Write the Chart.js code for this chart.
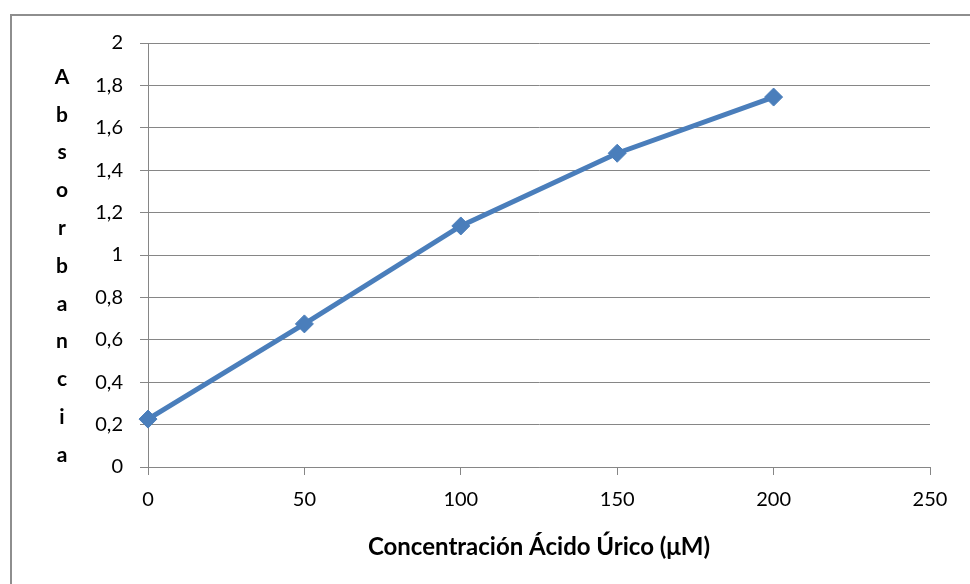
<!DOCTYPE html>
<html>
<head>
<meta charset="utf-8">
<script src="https://cdn.jsdelivr.net/npm/chart.js@4"></script>
<style>
html,body{margin:0;padding:0;background:#fff;}
#wrap{position:relative;width:970px;height:584px;}
</style>
</head>
<body>
<div id="wrap"><canvas id="c" width="970" height="584"></canvas></div>
<script>
const concentrations = [0, 50, 100, 150, 200];
const absorbance = [0.226, 0.675, 1.137, 1.48, 1.745];
const xTitle = 'Concentración Ácido Úrico (μM)';
const yTitleLetters = ['A','b','s','o','r','b','a','n','c','i','a'];
const yMin = 0, yMax = 2, yStep = 0.2;
const xMin = 0, xMax = 250, xStep = 50;

const FONT = "Lato, 'Open Sans', sans-serif";
const GRID = '#868686';
const BLUE = '#4a7ebb';

const extras = {
  id: 'extras',
  beforeDraw(chart) {
    const ctx = chart.ctx;
    ctx.save();
    ctx.fillStyle = '#fff';
    ctx.fillRect(0, 0, chart.width, chart.height);
    ctx.strokeStyle = '#8e8e8e';
    ctx.lineWidth = 2;
    ctx.strokeRect(11, 15, 1000, 1000);
    ctx.restore();
  },
  afterDraw(chart) {
    const ctx = chart.ctx;
    ctx.save();
    ctx.fillStyle = '#000';
    ctx.font = "bold 21px " + FONT;
    ctx.textAlign = 'center';
    ctx.textBaseline = 'middle';
    const top = 77, step = 37.8;
    yTitleLetters.forEach((l, i) => ctx.fillText(l, 62, top + step * i));
    ctx.restore();
  }
};

new Chart(document.getElementById('c'), {
  type: 'line',
  data: {
    datasets: [{
      data: concentrations.map((x, i) => ({x, y: absorbance[i]})),
      borderColor: BLUE,
      backgroundColor: BLUE,
      borderWidth: 5,
      pointStyle: 'rectRot',
      pointRadius: 9,
      pointBorderWidth: 1,
      pointBorderColor: BLUE,
      pointBackgroundColor: BLUE,
      tension: 0,
      clip: false
    }]
  },
  plugins: [extras],
  options: {
    responsive: false,
    animation: false,
    devicePixelRatio: 1,
    layout: { padding: { left: 0, top: 43, right: 40, bottom: 0 } },
    plugins: { legend: { display: false }, tooltip: { enabled: false } },
    scales: {
      x: {
        type: 'linear',
        min: xMin, max: xMax,
        afterFit(s) { s.height = 117; },
        ticks: { stepSize: xStep, color: '#000', font: { family: FONT, size: 20 }, padding: 13, maxRotation: 0 },
        grid: { drawOnChartArea: false, drawTicks: true, tickLength: 8, color: GRID, lineWidth: 1 },
        border: { display: true, color: GRID, width: 1 },
        title: { display: true, text: xTitle, color: '#000', font: { family: FONT, size: 24, weight: 'bold' }, padding: { top: 8, bottom: 22 } }
      },
      y: {
        min: yMin, max: yMax,
        afterFit(s) { s.width = 148; },
        ticks: {
          stepSize: yStep, color: '#000', font: { family: FONT, size: 20 }, padding: 17,
          callback: v => (Math.round(v * 10) / 10).toString().replace('.', ',')
        },
        grid: { drawTicks: true, tickLength: 8, color: GRID, lineWidth: 1 },
        border: { display: true, color: GRID, width: 1 }
      }
    }
  }
});
</script>
</body>
</html>
